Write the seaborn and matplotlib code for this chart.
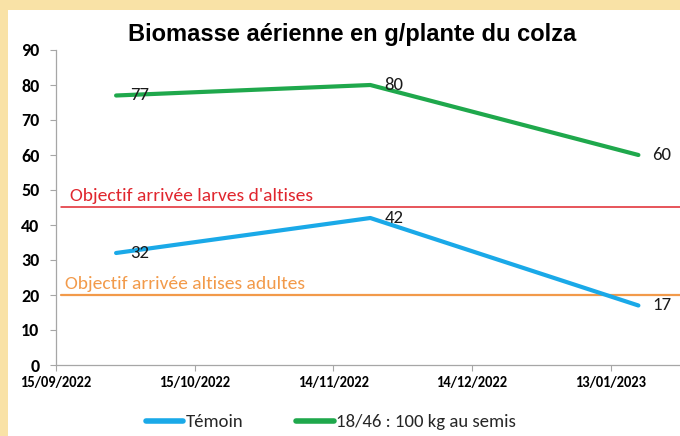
import pandas as pd
import matplotlib
matplotlib.use('Agg')
import matplotlib.pyplot as plt
import matplotlib.dates as mdates
from matplotlib.patches import Rectangle
from matplotlib.lines import Line2D
import seaborn as sns

# ── Data ──────────────────────────────────────────────────────────────────
dates = ['2022-09-28', '2022-11-22', '2023-01-19']
temoin = [32, 42, 17]
engrais = [77, 80, 60]
series_names = ['Témoin', '18/46 : 100 kg au semis']
tick_dates = ['2022-09-15', '2022-10-15', '2022-11-14', '2022-12-14', '2023-01-13']
obj_larves = 45
obj_adultes = 20

df = pd.DataFrame({
    'Date': pd.to_datetime(dates * 2),
    'Biomasse': temoin + engrais,
    'Serie': [series_names[0]] * 3 + [series_names[1]] * 3,
})

colors = {series_names[0]: '#1AA9E8', series_names[1]: '#1FA84C'}
cream = '#F9E2A6'
calibri = ['Carlito', 'DejaVu Sans']

sns.set_style('white')

fig = plt.figure(figsize=(6.8, 4.36), dpi=100, facecolor=cream)
fig.patches.append(Rectangle((8 / 680, 0), 1, 1 - 10 / 436, transform=fig.transFigure,
                             facecolor='white', edgecolor='none', zorder=-5))
ax = fig.add_axes([56 / 680, 71 / 436, 1 - 56 / 680, 315 / 436])
ax.set_zorder(2)
ax.set_facecolor('white')

sns.lineplot(data=df, x='Date', y='Biomasse', hue='Serie', palette=colors,
             linewidth=3.0, legend=False, ax=ax, zorder=3)

# objective lines
x0 = pd.Timestamp('2022-09-16')
x1 = pd.Timestamp('2023-02-20')
ax.plot([x0, x1], [obj_larves] * 2, color='#E0262E', lw=1.1, zorder=2)
ax.plot([x0, x1], [obj_adultes] * 2, color='#F29A4A', lw=1.6, zorder=2)
ax.text(pd.Timestamp('2022-09-18'), obj_larves + 1.0, "Objectif arrivée larves d'altises",
        color='#E0262E', fontsize=14, family=calibri, va='bottom')
ax.text(pd.Timestamp('2022-09-17'), obj_adultes + 0.8, "Objectif arrivée altises adultes",
        color='#F29A4A', fontsize=14, family=calibri, va='bottom')

# data labels
for d, v in zip(pd.to_datetime(dates), temoin):
    ax.text(d + pd.Timedelta(days=3), v, str(v), fontsize=13.5, family=calibri,
            va='center', ha='left', color='#1a1a1a', zorder=4)
for d, v in zip(pd.to_datetime(dates), engrais):
    ax.text(d + pd.Timedelta(days=3), v, str(v), fontsize=13.5, family=calibri,
            va='center', ha='left', color='#1a1a1a', zorder=4)

# axes
ax.set_xlim(pd.Timestamp('2022-09-15'), pd.Timestamp('2022-09-15') + pd.Timedelta(days=135))
ax.set_ylim(0, 90)
ax.set_yticks(range(0, 91, 10))
ax.set_xticks(pd.to_datetime(tick_dates))
ax.xaxis.set_major_formatter(mdates.DateFormatter('%d/%m/%Y'))
ax.set_xlabel('')
ax.set_ylabel('')
for lab in ax.get_xticklabels():
    lab.set_family(calibri)
    lab.set_fontweight('bold')
    lab.set_fontsize(10.5)
for lab in ax.get_yticklabels():
    lab.set_family(calibri)
    lab.set_fontweight('bold')
    lab.set_fontsize(13)
ax.tick_params(axis='both', which='both', direction='out', length=4, width=0.8,
               color='#A6A6A6', labelcolor='black', left=True, bottom=True, pad=4)
ax.tick_params(axis='y', pad=8)
for side in ('top', 'right'):
    ax.spines[side].set_visible(False)
for side in ('left', 'bottom'):
    ax.spines[side].set_color('#A6A6A6')
    ax.spines[side].set_linewidth(0.9)

fig.text(352 / 680, 1 - 34 / 436, 'Biomasse aérienne en g/plante du colza',
         ha='center', va='center', fontsize=17, fontweight='bold', color='black',
         family=['Liberation Sans', 'DejaVu Sans'])

handles = [Line2D([], [], color=colors[n], lw=4) for n in series_names]
fig.legend(handles, series_names, loc='center', bbox_to_anchor=(331 / 680, 14 / 436),
           ncol=2, frameon=False, prop={'family': calibri, 'size': 13.5},
           handlelength=2.0, handletextpad=0.15, columnspacing=2.8)

fig.savefig('out.png', dpi=100, facecolor=cream)
